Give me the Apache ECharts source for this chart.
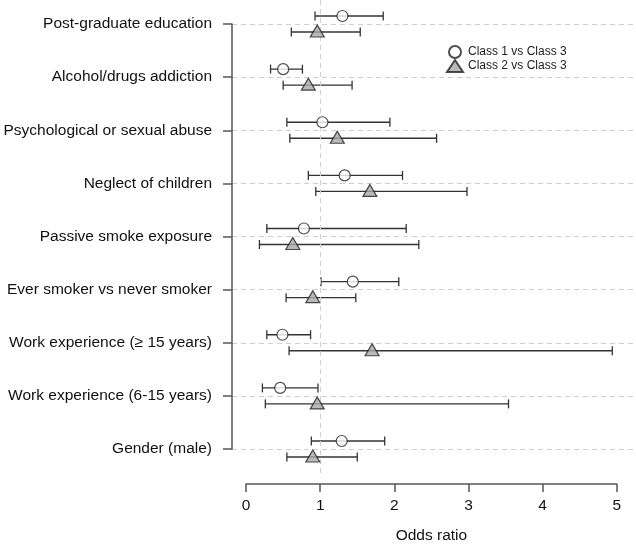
<!DOCTYPE html>
<html>
<head>
<meta charset="utf-8">
<script src="https://cdn.jsdelivr.net/npm/echarts@6/dist/echarts.min.js"></script>
<style>
html,body{margin:0;padding:0;background:#fff;}
#c{width:636px;height:548px;}
</style>
</head>
<body>
<div id="c"></div>
<script>
// ---- data ----
var categories = [
  'Post-graduate education',
  'Alcohol/drugs addiction',
  'Psychological or sexual abuse',
  'Neglect of children',
  'Passive smoke exposure',
  'Ever smoker vs never smoker',
  'Work experience (\u2265 15 years)',
  'Work experience (6-15 years)',
  'Gender (male)'
];
var class1OR   = [1.30, 0.50, 1.03, 1.33, 0.78, 1.44, 0.49, 0.46, 1.29];
var class1Low  = [0.93, 0.33, 0.55, 0.84, 0.28, 1.01, 0.28, 0.22, 0.88];
var class1High = [1.85, 0.76, 1.94, 2.11, 2.16, 2.06, 0.87, 0.97, 1.87];
var class2OR   = [0.96, 0.84, 1.23, 1.67, 0.63, 0.90, 1.70, 0.96, 0.90];
var class2Low  = [0.61, 0.50, 0.59, 0.94, 0.18, 0.54, 0.58, 0.26, 0.55];
var class2High = [1.54, 1.43, 2.57, 2.98, 2.33, 1.48, 4.94, 3.54, 1.50];
var xTicks = [0, 1, 2, 3, 4, 5];
var seriesNames = ['Class 1 vs Class 3', 'Class 2 vs Class 3'];

// ---- layout ----
var W = 636, H = 548;
var plotLeft = 232, plotTop = 0, plotBottom = 477;
var xMin = -0.19, xMax = 5.26;
var yMin = -0.452, yMax = 8.527;
var pxPerX = (W - plotLeft) / (xMax - xMin);
var xAxisLeft = plotLeft + (0 - xMin) * pxPerX;
var xAxisWidth = 5 * pxPerX;
var pxPerY = (plotBottom - plotTop) / (yMax - yMin);
var yAxisTop = plotTop + (0 - yMin) * pxPerY;
var yAxisHeight = 8 * pxPerY;
var OFF = 8;
var FONT = 'Liberation Sans, Arial, sans-serif';

function ebData(lo, hi) {
  return lo.map(function (l, i) { return [l, hi[i], i]; });
}
function ptData(v) {
  return v.map(function (x, i) { return [x, i]; });
}
function makeRender(dy) {
  return function (params, api) {
    var a = api.coord([api.value(0), api.value(2)]);
    var b = api.coord([api.value(1), api.value(2)]);
    var y = a[1] + dy;
    var st = { stroke: '#333', lineWidth: 1.3 };
    return {
      type: 'group',
      children: [
        { type: 'line', shape: { x1: a[0], y1: y, x2: b[0], y2: y }, style: st },
        { type: 'line', shape: { x1: a[0], y1: y - 4.5, x2: a[0], y2: y + 4.5 }, style: st },
        { type: 'line', shape: { x1: b[0], y1: y - 4.5, x2: b[0], y2: y + 4.5 }, style: st }
      ]
    };
  };
}

var chart = echarts.init(document.getElementById('c'), null, { renderer: 'canvas' });
chart.setOption({
  backgroundColor: '#fff',
  animation: false,
  textStyle: { fontFamily: FONT },
  legend: {
    orient: 'vertical',
    left: 446,
    top: 45,
    padding: 0,
    itemGap: 0,
    itemWidth: 16,
    itemHeight: 12,
    textStyle: { fontSize: 12, color: '#222', fontFamily: FONT },
    data: seriesNames
  },
  grid: [
    { left: plotLeft, top: plotTop, width: W - plotLeft, height: plotBottom - plotTop },
    { left: plotLeft, top: yAxisTop, width: W - plotLeft, height: yAxisHeight },
    { left: xAxisLeft, top: 483, width: xAxisWidth, height: 1 }
  ],
  xAxis: [
    { gridIndex: 0, type: 'value', min: xMin, max: xMax, show: false },
    { gridIndex: 1, type: 'value', min: 0, max: 1, show: false },
    {
      gridIndex: 2, type: 'value', min: 0, max: 5, interval: 1, position: 'bottom',
      axisLine: { show: true, lineStyle: { color: '#555', width: 1.5 } },
      axisTick: { show: true, length: 8, lineStyle: { color: '#555', width: 1.5 } },
      axisLabel: { margin: 14, fontSize: 15.5, color: '#111', fontFamily: FONT,
        formatter: function (v) { return xTicks.indexOf(v) >= 0 ? String(v) : ''; } },
      splitLine: { show: false },
      name: 'Odds ratio', nameLocation: 'middle', nameGap: 44,
      nameTextStyle: { fontSize: 15.5, color: '#111', fontFamily: FONT }
    }
  ],
  yAxis: [
    { gridIndex: 0, type: 'value', min: yMin, max: yMax, inverse: true, show: false },
    {
      gridIndex: 1, type: 'value', min: 0, max: 8, interval: 1, inverse: true,
      axisLine: { show: true, lineStyle: { color: '#555', width: 1.5 } },
      axisTick: { show: true, length: 9, lineStyle: { color: '#555', width: 1.5 } },
      axisLabel: { margin: 20, fontSize: 15.5, color: '#111', fontFamily: FONT,
        formatter: function (v) { return categories[v] || ''; } },
      splitLine: { show: true, lineStyle: { color: '#cfcfcf', type: [5, 4], width: 1 } }
    },
    { gridIndex: 2, type: 'value', show: false }
  ],
  series: [
    {
      type: 'custom', name: 'eb1', xAxisIndex: 0, yAxisIndex: 0, clip: false,
      renderItem: makeRender(-OFF), data: ebData(class1Low, class1High), z: 3,
      encode: { x: [0, 1], y: 2 }
    },
    {
      type: 'custom', name: 'eb2', xAxisIndex: 0, yAxisIndex: 0, clip: false,
      renderItem: makeRender(OFF), data: ebData(class2Low, class2High), z: 3,
      encode: { x: [0, 1], y: 2 }
    },
    {
      type: 'scatter', name: seriesNames[0], xAxisIndex: 0, yAxisIndex: 0,
      symbol: 'circle', symbolSize: 11, symbolOffset: [0, -OFF],
      itemStyle: { color: '#fff', borderColor: '#222', borderWidth: 1.2 },
      data: ptData(class1OR), z: 5,
      markLine: {
        silent: true, symbol: 'none', label: { show: false },
        lineStyle: { color: '#cfcfcf', type: [5, 4], width: 1 },
        data: [{ xAxis: 1 }]
      }
    },
    {
      type: 'scatter', name: seriesNames[1], xAxisIndex: 0, yAxisIndex: 0,
      symbol: 'triangle', symbolSize: [14, 12], symbolOffset: [0, OFF - 1],
      itemStyle: { color: '#a9a9a9', borderColor: '#222', borderWidth: 1.2 },
      data: ptData(class2OR), z: 5
    }
  ]
});
</script>
</body>
</html>
